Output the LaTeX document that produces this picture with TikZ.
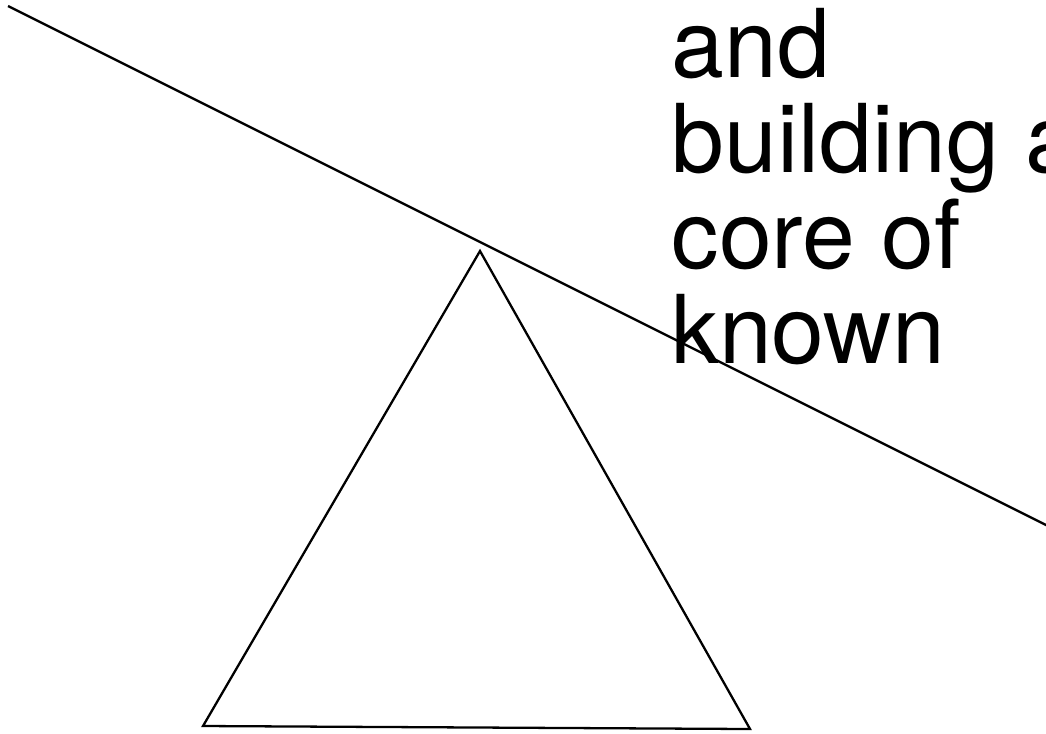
\documentclass[tikz,border=0pt]{standalone}
\usepackage{fontspec}
\setmainfont{TeX Gyre Heros}
\usetikzlibrary{positioning}

\begin{document}
\begin{tikzpicture}[
  x=0.01cm, y=-0.01cm,
  stroke/.style={draw=black, line width=0.65pt, line join=miter},
  words/.style={font=\fontsize{27}{27}\selectfont, inner sep=0pt, anchor=base west},
]
\useasboundingbox (0,0) rectangle (1046,733);
% ---- the sloping line ----
\coordinate (lstart) at (8,6);
\coordinate (lend)   at (1062,533);
\draw[stroke] (lstart) -- (lend);
% ---- triangle below it ----
\coordinate (apex)  at (480,251);
\coordinate (right) at (750,729);
\coordinate (left)  at (203,726);
\draw[stroke] (apex) -- (right) -- (left) -- cycle;
% ---- text, cut off at the right edge as in the source ----
\foreach \txt [count=\i] in {and, building a, core of, known}
  \node[words] (line\i) at (671, {77+95.5*(\i-1)}) {\txt};
\end{tikzpicture}
\end{document}
